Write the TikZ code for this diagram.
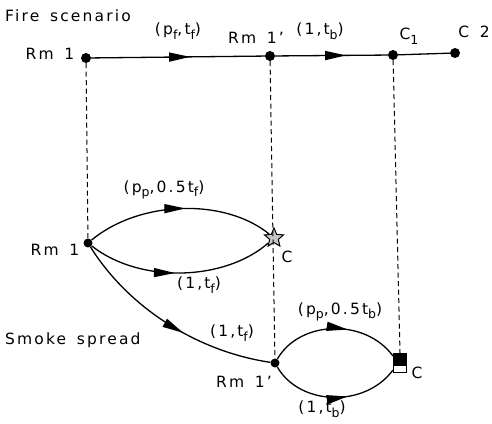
\documentclass[tikz,border=0pt]{standalone}
\usepackage{fontspec}
\setmainfont{DejaVu Sans}[LetterSpace=14, WordSpace=1.5]
\usetikzlibrary{arrows.meta,decorations.markings,shapes.geometric}
\newcommand\sbx[1]{\raisebox{-0.55ex}{\fontsize{12.5}{13}\selectfont #1}}
\begin{document}
\begin{tikzpicture}[x=1pt,y=-1pt,
  dot/.style={circle,fill=black,inner sep=0pt,minimum size=#1},
  dot/.default=10pt,
  lbl/.style={font=\fontsize{15.5}{17}\selectfont, inner sep=0pt},
  edge/.style={line width=1.3pt},
  vdash/.style={dash pattern=on 5pt off 3.5pt, line width=1pt},
  mk/.style={postaction={decorate},decoration={markings,mark=at position #1 with {\arrow{Triangle[length=21pt,width=9pt]}}}}
]
\useasboundingbox (0,0) rectangle (492,423);
% nodes
\node[dot] (A) at (86,58) {};
\node[dot] (B) at (270,56) {};
\node[dot] (C1) at (393,55) {};
\node[dot] (C2) at (455,53) {};
\node[dot=9pt] (M) at (88,243) {};
\node[star, star points=5, star point ratio=2.2, draw, fill=gray!45, minimum size=20pt, inner sep=0pt, line width=1pt] (S) at (274,238) {};
\node[dot=9pt] (L) at (275,363) {};
\node[draw, line width=1pt, minimum width=13pt, minimum height=19pt, inner sep=0pt,
  path picture={\fill (path picture bounding box.north west) rectangle ([yshift=7pt]path picture bounding box.south east);}] (Q) at (400,363) {};
% dashed verticals
\draw[vdash] (A) -- (M);
\draw[vdash] (B) -- (L);
\draw[vdash] (C1) -- (Q.north);
% top line
\draw[edge, mk=0.57] (A) -- (B);
\draw[edge, mk=0.63] (B) -- (C1);
\draw[edge] (C1) -- (C2);
% middle lens
\draw[edge, mk=0.53] (M) .. controls (140,200) and (225,198) .. (S);
\draw[edge, mk=0.47] (M) .. controls (140,284) and (225,281) .. (S);
% long curve
\draw[edge, mk=0.58] (M) .. controls (130,310) and (200,352) .. (L);
% bottom lens
\draw[edge, mk=0.6] (L) .. controls (300,320) and (365,318) .. ([yshift=-3pt]Q.north west);
\draw[edge, mk=0.6] (L) .. controls (300,406) and (365,408) .. ([yshift=3pt]Q.south west);
% labels
\node[lbl, anchor=west] (t1) at (5,16) {Fire scenario};
\node[lbl] (t2) at (178,31) {(p\sbx{f},t\sbx{f})};
\node[lbl] (t3) at (256,38) {Rm 1'};
\node[lbl] (t4) at (320,31) {(1,t\sbx{b})};
\node[lbl] (t5) at (409,36) {C\sbx{1}};
\node[lbl] (t6) at (474,32) {C 2};
\node[lbl] (t7) at (50,54) {Rm 1};
\node[lbl] (t8) at (164,190) {(p\sbx{p},0.5t\sbx{f})};
\node[lbl] (t9) at (55,250) {Rm 1};
\node[lbl] (t10) at (199,285) {(1,t\sbx{f})};
\node[lbl] (t11) at (287,257) {C};
\node[lbl, anchor=west] (t12) at (5,340) {Smoke spread};
\node[lbl] (t13) at (232,333) {(1,t\sbx{f})};
\node[lbl] (t14) at (244,382) {Rm 1'};
\node[lbl] (t15) at (340,312) {(p\sbx{p},0.5t\sbx{b})};
\node[lbl] (t16) at (417,373) {C};
\node[lbl] (t17) at (322,409) {(1,t\sbx{b})};
\end{tikzpicture}
\end{document}
